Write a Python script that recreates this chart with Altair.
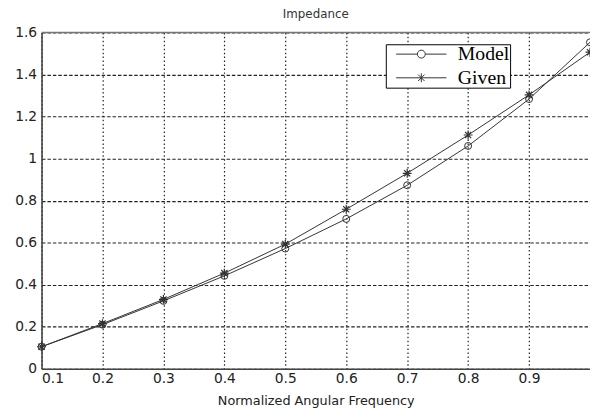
import altair as alt
import pandas as pd

freq = [0.1, 0.2, 0.3, 0.4, 0.5, 0.6, 0.7, 0.8, 0.9, 1.0]
model = [0.105, 0.21, 0.323, 0.442, 0.572, 0.713, 0.873, 1.06, 1.283, 1.553]
given = [0.105, 0.215, 0.33, 0.455, 0.593, 0.759, 0.93, 1.112, 1.303, 1.506]
series_names = ["Model", "Given"]
x_ticks = [0.1, 0.2, 0.3, 0.4, 0.5, 0.6, 0.7, 0.8, 0.9]
y_ticks = [0, 0.2, 0.4, 0.6, 0.8, 1.0, 1.2, 1.4, 1.6]

df = pd.DataFrame({
    "freq": freq + freq,
    "value": model + given,
    "series": ["Model"] * len(freq) + ["Given"] * len(freq),
})

INK = "#333333"
ASTER = "M-1,0L1,0M0,-1L0,1M-0.7,-0.7L0.7,0.7M-0.7,0.7L0.7,-0.7"
LEG_CIRCLE = "M-5.1,0L-0.8,0M0.8,0L5.1,0M-0.8,0A0.8,0.8 0 1,0 0.8,0A0.8,0.8 0 1,0 -0.8,0"
LEG_ASTER = "M-5.1,0L5.1,0M0,-0.9L0,0.9M-0.65,-0.65L0.65,0.65M-0.65,0.65L0.65,-0.65"

xs = alt.Scale(domain=[0.1, 1.0], nice=False, zero=False)
ys = alt.Scale(domain=[0, 1.6], nice=False)

x_enc = alt.X(
    "freq:Q", scale=xs,
    axis=alt.Axis(values=x_ticks, format=".1f", title="Normalized Angular Frequency",
                  grid=True, gridDash=[1.5, 2.5], gridColor="#222222", gridOpacity=1,
                  gridWidth=1.2, ticks=False, labelPadding=3, titlePadding=9),
)
y_enc = alt.Y(
    "value:Q", scale=ys,
    axis=alt.Axis(values=y_ticks, format="~g", title=None,
                  grid=True, gridDash=[3.5, 2], gridColor="#222222", gridOpacity=1,
                  gridWidth=1.1, ticks=False, labelPadding=5),
)

base = alt.Chart(df)

lines = base.mark_line(color=INK, strokeWidth=1).encode(x=x_enc, y=y_enc, detail="series:N")

pts_model = base.transform_filter("datum.series == 'Model'").mark_point(
    shape="circle", size=50, filled=False, color=INK, strokeWidth=1, opacity=1
).encode(x="freq:Q", y="value:Q")

pts_given = base.transform_filter("datum.series == 'Given'").mark_point(
    shape=ASTER, size=81, filled=False, color=INK, strokeWidth=1.2, opacity=1
).encode(x="freq:Q", y="value:Q")

legend_layer = base.transform_filter("false").mark_point(
    filled=False, color=INK, strokeWidth=1, opacity=1
).encode(
    x="freq:Q", y="value:Q",
    shape=alt.Shape(
        "series:N",
        scale=alt.Scale(domain=series_names, range=[LEG_CIRCLE, LEG_ASTER]),
        legend=alt.Legend(
            orient="none", legendX=349, legendY=12, title=None,
            strokeColor="black", fillColor="white", padding=0,
            symbolSize=100, symbolOffset=26, symbolStrokeColor=INK,
            symbolFillColor="transparent",
            symbolStrokeWidth=1, labelFont="Liberation Serif", labelFontSize=20,
            labelColor="black", labelOffset=27, rowPadding=4, cornerRadius=0,
            labelExpr="datum.label + ' '",
        ),
    ),
)

top_frame = alt.Chart(pd.DataFrame({"v": [1.6]})).mark_rule(color="#777777", strokeWidth=1.5).encode(
    y=alt.Y("v:Q", scale=ys)
)

chart = alt.layer(lines, pts_model, pts_given, legend_layer, top_frame).properties(
    width=556, height=341,
    title=alt.Title("Impedance", font="DejaVu Sans", fontSize=12, fontWeight="normal",
                    color="#333333", offset=5),
    padding={"left": 34, "top": 22, "right": 0, "bottom": 39},
    autosize=alt.AutoSizeParams(type="none"),
).configure_view(stroke=None).configure_axis(
    domainColor="#444444", domainWidth=1.6,
    labelFont="DejaVu Sans", labelFontSize=14, labelColor="#222222",
    titleFont="DejaVu Sans", titleFontSize=13, titleColor="#222222", titleFontWeight="normal",
)

chart.save("out.html", embed_options={"renderer": "svg", "actions": False})
